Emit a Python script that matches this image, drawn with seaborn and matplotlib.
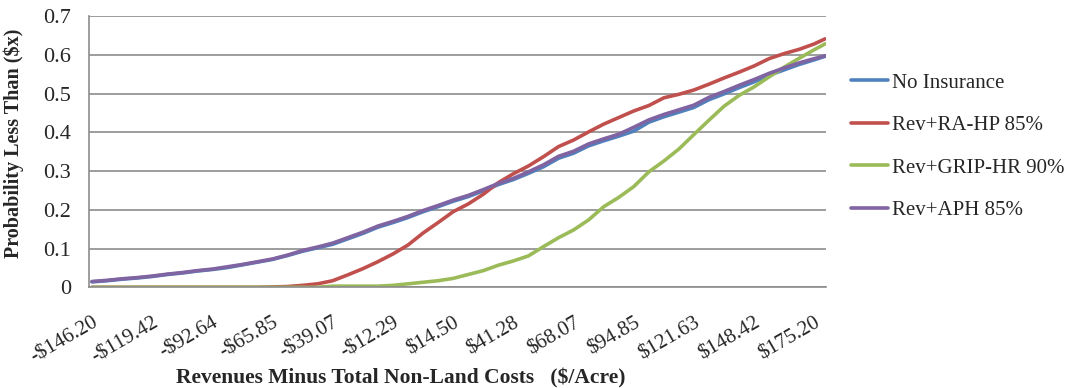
import numpy as np
import pandas as pd
import seaborn as sns
import matplotlib.pyplot as plt
from matplotlib.ticker import FuncFormatter

# revenue minus non-land costs ($/acre)
revenue = [-146.2, -139.5, -132.8, -126.1, -119.4, -112.7, -106.0, -99.3, -92.6, -85.9,
           -79.2, -72.5, -65.9, -59.2, -52.5, -45.8, -39.1, -32.4, -25.7, -19.0,
           -12.3, -5.6, 1.1, 7.8, 14.5, 21.2, 27.9, 34.6, 41.3, 48.0,
           54.7, 61.4, 68.1, 74.8, 81.5, 88.2, 94.9, 101.6, 108.3, 115.0,
           121.6, 128.3, 135.0, 141.7, 148.4, 155.1, 161.8, 168.5, 175.2, 180.0]

no_insurance = [0.014, 0.017, 0.021, 0.024, 0.028, 0.033, 0.037, 0.042, 0.046, 0.051,
                0.058, 0.065, 0.072, 0.082, 0.093, 0.102, 0.111, 0.125, 0.139, 0.155,
                0.167, 0.180, 0.195, 0.208, 0.222, 0.234, 0.249, 0.265, 0.278, 0.294,
                0.311, 0.333, 0.346, 0.365, 0.378, 0.390, 0.403, 0.426, 0.440, 0.452,
                0.464, 0.484, 0.499, 0.515, 0.530, 0.547, 0.561, 0.575, 0.587, 0.596]

ra_hp_85 = [0.0, 0.0, 0.0, 0.0, 0.0, 0.0, 0.0, 0.0, 0.0, 0.0,
            0.0, 0.0, 0.001, 0.002, 0.005, 0.009, 0.017, 0.032, 0.048, 0.066,
            0.086, 0.109, 0.140, 0.167, 0.195, 0.215, 0.240, 0.270, 0.293, 0.313,
            0.337, 0.363, 0.380, 0.401, 0.421, 0.438, 0.455, 0.469, 0.489, 0.498,
            0.509, 0.524, 0.540, 0.555, 0.571, 0.590, 0.603, 0.614, 0.628, 0.641]

grip_hr_90 = [0.0, 0.0, 0.0, 0.0, 0.0, 0.0, 0.0, 0.0, 0.0, 0.0,
              0.0, 0.0, 0.0, 0.0, 0.0, 0.0, 0.003, 0.003, 0.003, 0.003,
              0.005, 0.009, 0.013, 0.017, 0.023, 0.033, 0.043, 0.057, 0.068, 0.081,
              0.105, 0.128, 0.148, 0.174, 0.208, 0.232, 0.260, 0.298, 0.326, 0.357,
              0.394, 0.431, 0.467, 0.495, 0.517, 0.543, 0.568, 0.591, 0.613, 0.628]

aph_85 = [0.015, 0.018, 0.022, 0.025, 0.029, 0.034, 0.038, 0.043, 0.047, 0.053,
          0.059, 0.066, 0.073, 0.083, 0.095, 0.104, 0.114, 0.128, 0.142, 0.158,
          0.170, 0.183, 0.198, 0.211, 0.225, 0.237, 0.252, 0.268, 0.281, 0.298,
          0.316, 0.338, 0.351, 0.370, 0.383, 0.395, 0.413, 0.432, 0.446, 0.458,
          0.470, 0.490, 0.505, 0.521, 0.536, 0.552, 0.566, 0.579, 0.590, 0.597]

series_names = ['No Insurance', 'Rev+RA-HP 85%', 'Rev+GRIP-HR 90%', 'Rev+APH 85%']
colors = ['#4F81BD', '#C0504D', '#9BBB59', '#8064A2']

tick_values = [-146.20, -119.42, -92.64, -65.85, -39.07, -12.29, 14.50,
               41.28, 68.07, 94.85, 121.63, 148.42, 175.20]
tick_labels = ['-$146.20', '-$119.42', '-$92.64', '-$65.85', '-$39.07', '-$12.29', '$14.50',
               '$41.28', '$68.07', '$94.85', '$121.63', '$148.42', '$175.20']

frames = []
for name, vals in zip(series_names, [no_insurance, ra_hp_85, grip_hr_90, aph_85]):
    frames.append(pd.DataFrame({'x': revenue, 'p': vals, 'series': name}))
df = pd.concat(frames, ignore_index=True)

sns.set_style('white')
plt.rcParams['font.family'] = ['Liberation Serif', 'DejaVu Serif']

fig = plt.figure(figsize=(10.73, 3.88), dpi=100)
ax = fig.add_axes([0.083, 0.2595, 0.687, 0.6993])

sns.lineplot(data=df, x='x', y='p', hue='series', hue_order=series_names,
             palette=colors, linewidth=2.6, ax=ax, legend=True)

ax.set_xlim(-147.5, 180.5)
ax.set_ylim(0, 0.7)
ax.set_yticks(np.arange(0, 0.71, 0.1))
ax.yaxis.set_major_formatter(FuncFormatter(lambda v, p: '0' if abs(v) < 1e-9 else '%.1f' % v))
ax.yaxis.grid(True, color='#8c8c8c', linewidth=1.2)
ax.set_axisbelow(True)

ax.set_xticks(tick_values)
ax.set_xticklabels(tick_labels, rotation=30, ha='right', rotation_mode='anchor')
ax.tick_params(axis='x', length=0, pad=19, labelsize=15)
ax.tick_params(axis='y', length=0, pad=13, labelsize=16)

for s in ['top', 'right']:
    ax.spines[s].set_visible(False)
for s in ['left', 'bottom']:
    ax.spines[s].set_color('#8c8c8c')
    ax.spines[s].set_linewidth(1.2)

ax.set_xlabel('Revenues Minus Total Non-Land Costs   ($/Acre)', fontsize=15.5, fontweight='bold')
ax.xaxis.set_label_coords(0.423, -0.30)
ax.set_ylabel('Probability Less Than ($x)', fontsize=14.5, fontweight='bold')
ax.yaxis.set_label_coords(-0.088, 0.53)

handles, labels = ax.get_legend_handles_labels()
ax.legend(handles, labels, loc='center left', bbox_to_anchor=(0.785, 0.6224),
          bbox_transform=fig.transFigure, frameon=False, fontsize=15,
          handlelength=1.8, handletextpad=0.2, labelspacing=1.1, borderaxespad=0)

plt.savefig('out.png', dpi=100)
print('out.png saved')
